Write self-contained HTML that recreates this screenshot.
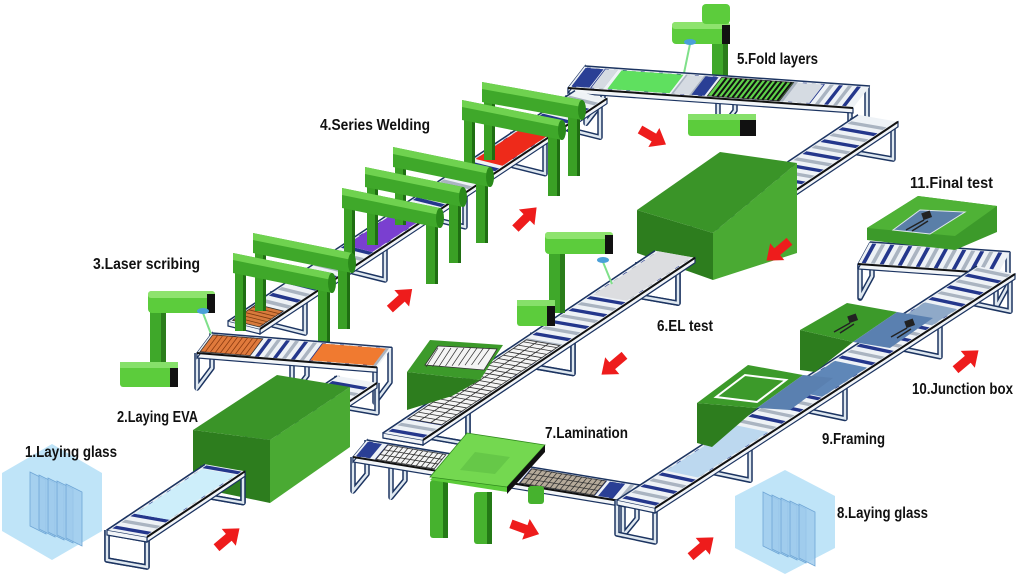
<!DOCTYPE html>
<html><head><meta charset="utf-8"><style>
html,body{margin:0;padding:0;background:#fff;}
svg{display:block;}
text{font-family:"Liberation Sans",sans-serif;font-weight:bold;font-size:16px;fill:#111;}
</style></head><body>
<svg id="s" width="1024" height="576" viewBox="0 0 1024 576" xmlns="http://www.w3.org/2000/svg">
<rect width="1024" height="576" fill="#fff"/>
<g id="g"></g>
<g id="labels">
<text x="25" y="457" textLength="92" lengthAdjust="spacingAndGlyphs">1.Laying glass</text>
<text x="117" y="422" textLength="81" lengthAdjust="spacingAndGlyphs">2.Laying EVA</text>
<text x="93" y="269" textLength="107" lengthAdjust="spacingAndGlyphs">3.Laser scribing</text>
<text x="320" y="130" textLength="110" lengthAdjust="spacingAndGlyphs">4.Series Welding</text>
<text x="737" y="64" textLength="81" lengthAdjust="spacingAndGlyphs">5.Fold layers</text>
<text x="657" y="331" textLength="56" lengthAdjust="spacingAndGlyphs">6.EL test</text>
<text x="545" y="438" textLength="83" lengthAdjust="spacingAndGlyphs">7.Lamination</text>
<text x="837" y="518" textLength="91" lengthAdjust="spacingAndGlyphs">8.Laying glass</text>
<text x="822" y="444" textLength="63" lengthAdjust="spacingAndGlyphs">9.Framing</text>
<text x="912" y="394" textLength="101" lengthAdjust="spacingAndGlyphs">10.Junction box</text>
<text x="910" y="188" textLength="83" lengthAdjust="spacingAndGlyphs">11.Final test</text>
</g>
</svg>
<script>
var NS="http://www.w3.org/2000/svg",G=document.getElementById("g");
function el(t,a,p){var e=document.createElementNS(NS,t);for(var k in a)e.setAttribute(k,a[k]);(p||G).appendChild(e);return e;}
function P(a){return a.map(function(p){return p[0].toFixed(1)+","+p[1].toFixed(1);}).join(" ");}
function poly(pts,fill,extra){var a={points:P(pts),fill:fill};for(var k in extra)a[k]=extra[k];return el("polygon",a);}
var NAVY="#1c3461";
function conv(c,t0,t1){
  function pt(t,w){return [c.o[0]+t+w*c.v[0],c.o[1]+t*c.s+w*c.v[1]];}
  var h=c.h||34;
  (c.legs||[]).forEach(function(t){if(t<t0-1||t>t1+1)return;var a=pt(t,0),b=pt(t,1);
    var d="M"+a[0]+","+a[1]+" L"+a[0]+","+(a[1]+h)+" L"+b[0]+","+(b[1]+h)+" L"+b[0]+","+b[1];
    el("path",{d:d,fill:"none",stroke:NAVY,"stroke-width":5.5,"stroke-linejoin":"round"});
    el("path",{d:d,fill:"none",stroke:"#dfe8f0","stroke-width":2.5});});
  var a0=pt(t0,1),a1=pt(t1,1);
  poly([a0,a1,[a1[0],a1[1]+5],[a0[0],a0[1]+5]],"#f2f5f8",{stroke:NAVY,"stroke-width":1.2});
  var e0=pt(t0,0);poly([e0,a0,[a0[0],a0[1]+5],[e0[0],e0[1]+5]],"#f2f5f8",{stroke:NAVY,"stroke-width":1.2});
  poly([pt(t0,0),pt(t1,0),pt(t1,1),pt(t0,1)],"#eef2f6");
  var i=0;for(var t=t0+3;t<t1-4;t+=9){poly([pt(t,0.06),pt(t+4,0.06),pt(t+4,0.94),pt(t,0.94)],(i++%2)?"#aab4c1":"#24378c");}
  (c.panels||[]).forEach(function(p){var q0=Math.max(p[0],t0),q1=Math.min(p[1],t1);if(q1<=q0)return;
    poly([pt(q0,0.08),pt(q1,0.08),pt(q1,0.92),pt(q0,0.92)],p[2],{stroke:p[3]?"#333":"none","stroke-width":0.8});
    if(p[3]){for(var t=q0+p[3];t<q1;t+=p[3]){var x=pt(t,0.08),y=pt(t,0.92);el("line",{x1:x[0],y1:x[1],x2:y[0],y2:y[1],stroke:p[4]||"#333","stroke-width":p[5]||0.8});}
      if(p[6]){[0.36,0.64].forEach(function(w){var x=pt(q0,w),y=pt(q1,w);el("line",{x1:x[0],y1:x[1],x2:y[0],y2:y[1],stroke:"#333","stroke-width":0.8});});}}});
  var b0=pt(t0,0),b1=pt(t1,0);
  el("line",{x1:b0[0],y1:b0[1],x2:b1[0],y2:b1[1],stroke:NAVY,"stroke-width":1.5});
  el("line",{x1:a0[0],y1:a0[1],x2:a1[0],y2:a1[1],stroke:"#111","stroke-width":2});
}
function robot(ax,ay,aw,colX,colTop,colBot,bx,by,bw,bh,lx1,ly1,lx2,ly2){
  el("rect",{x:colX,y:colTop,width:16,height:colBot-colTop,fill:"#3fa82a"});
  el("rect",{x:colX+11,y:colTop,width:5,height:colBot-colTop,fill:"#2b7d1b"});
  if(bw){el("rect",{x:bx,y:by,width:bw,height:bh,rx:3,fill:"#5ccc3c"});el("rect",{x:bx+bw-8,y:by+2,width:8,height:bh-2,fill:"#111"});el("rect",{x:bx,y:by,width:bw,height:6,fill:"#86e06a"});}
  el("rect",{x:ax,y:ay,width:aw,height:22,rx:4,fill:"#5ccc3c"});
  el("rect",{x:ax,y:ay,width:aw,height:7,rx:3,fill:"#8ee36e"});
  el("rect",{x:ax+aw-8,y:ay+3,width:8,height:19,fill:"#111"});
  el("line",{x1:lx1,y1:ly1,x2:lx2,y2:ly2,stroke:"#7fe08a","stroke-width":2});
  el("ellipse",{cx:lx1,cy:ly1-2,rx:6,ry:3,fill:"#4aa0d8"});
}
function gantry(L,R){
  el("rect",{x:L[0]+2,y:L[1]+12,width:11,height:66,fill:"#3aa025"});el("rect",{x:L[0]+10,y:L[1]+12,width:3,height:66,fill:"#1f6e12"});
  el("rect",{x:R[0]-14,y:R[1]+12,width:12,height:64,fill:"#3aa025"});el("rect",{x:R[0]-5,y:R[1]+12,width:3,height:64,fill:"#1f6e12"});
  poly([L,R,[R[0],R[1]+20],[L[0],L[1]+20]],"#3fa82a");
  poly([L,R,[R[0],R[1]+7],[L[0],L[1]+7]],"#6fd24f");
  el("ellipse",{cx:R[0],cy:R[1]+10,rx:4,ry:10,fill:"#2a8a1a"});
}
function arrow(cx,cy,ang){el("path",{d:"M-15,-4.5 L1,-4.5 L1,-11 L15,0 L1,11 L1,4.5 L-15,4.5 Z",fill:"#ee1c1c",transform:"translate("+cx+","+cy+") rotate("+ang+")"});}
function hex(cx,cy,rw,rh){poly([[cx,cy-rh],[cx+rw,cy-rh/2],[cx+rw,cy+rh/2],[cx,cy+rh],[cx-rw,cy+rh/2],[cx-rw,cy-rh/2]],"#bfe4f8");
  for(var i=0;i<5;i++){var x=cx-22+i*9,y=cy-30+i*3;poly([[x,y],[x+16,y+8],[x+16,y+62],[x,y+54]],"#9fcbec",{stroke:"#6fa6d6","stroke-width":0.8,"fill-opacity":0.8});}}

var C5={o:[585,66],s:0.07,v:[-17,22],legs:[18,150,282],panels:[[2,20,"#2a3f95"],[22,34,"#d5dbe2"],[38,100,"#5fe05f"],[104,120,"#d5dbe2"],[122,135,"#2a3f95"],[138,210,"#5fd24a",5,"#111",2],[214,240,"#d5dbe2"]]};
var C4={o:[228,321],s:-0.664,v:[32,8],legs:[45,125,205,285,340],panels:[[2,26,"#d77a3c",4,"#7a3a10"],[115,160,"#7a3fd0"],[245,300,"#ee2a1a"]]};
var C11={o:[870,242],s:0.07,v:[-12,22],legs:[2,138],panels:[]};
var C6={o:[383,433],s:-0.67,v:[40,7],legs:[45,150,255,360,470],panels:[[22,140,"#f4f4f4",5,"#333",0.8,1],[207,272,"#dcdde0"]]};
var C3={o:[212,333],s:0.08,v:[-15,20],legs:[0,95,178],h:35,panels:[[2,52,"#e07a3c",5,"#8a3a10"],[112,175,"#f07a30"]]};
var C1={o:[107,530],s:-0.67,v:[40,7],legs:[0,96,230],h:30,panels:[[25,92,"#cdeefa"]]};
var C7={o:[367,440],s:0.165,v:[-14,17],legs:[0,38,270],h:34,panels:[[2,16,"#2a3f95"],[22,80,"#f4f4f4",5,"#333",0.8,1],[166,240,"#b5aa9a",5,"#333",0.8,1],[244,258,"#2a3f95"]]};
var C89={o:[617,500],s:-0.65,v:[38,8],legs:[0,95,190,285,355],h:34,panels:[[46,116,"#bcd8ef"],[170,215,"#5f87b8"],[280,305,"#8fa9c8"]]};

robot(672,22,58,712,10,95,0,0,0,0,690,44,683,78);
el("rect",{x:702,y:4,width:28,height:20,rx:4,fill:"#5ccc3c"});
conv(C5,0,285);
el("rect",{x:688,y:114,width:68,height:22,rx:3,fill:"#5ccc3c"});el("rect",{x:740,y:114,width:16,height:22,fill:"#111"});el("rect",{x:688,y:114,width:68,height:6,fill:"#86e06a"});
conv(C4,0,347);
[[[482,82],[582,100]],[[462,100],[562,120]],[[393,147],[490,167]],[[365,167],[463,187]],[[342,188],[440,208]],[[253,233],[352,253]],[[233,253],[332,273]]].forEach(function(g){gantry(g[0],g[1]);});
conv(C11,0,140);
poly([[867,228],[918,196],[997,206],[997,232],[955,250],[867,240]],"#3c9a2a");
poly([[867,228],[918,196],[997,206],[955,236]],"#4fb236");
poly([[893,230],[920,210],[965,212],[930,234]],"#5a7fa8",{stroke:"#dfe6ee","stroke-width":1});
el("rect",{x:922,y:212,width:9,height:7,fill:"#222",transform:"rotate(-20 926 215)"});
el("path",{d:"M924,220 L906,230 M928,221 L912,231",stroke:"#222","stroke-width":1.5});
conv(C6,0,475);
poly([[637,210],[713,233],[713,280],[637,253]],"#2d7d1e");
poly([[713,233],[797,163],[797,253],[713,280]],"#4aaa33");
poly([[637,210],[720,152],[797,163],[713,233]],"#3a9428");
conv(C6,0,272);
robot(545,232,68,549,252,313,517,300,38,26,603,262,612,284);
poly([[407,372],[480,380],[452,396],[407,410]],"#2d7d1e");
poly([[407,372],[430,340],[503,345],[480,380]],"#3c9a2a");
poly([[425,365],[438,346],[497,349],[484,370]],"#f4f4f4",{stroke:"#333","stroke-width":0.8});
for(var k=0;k<9;k++){var x=432+k*6.5;el("line",{x1:x-6,y1:367-k*0.3,x2:x+6,y2:348,stroke:"#333","stroke-width":0.7});}
conv(C3,0,180);
robot(148,291,67,150,305,368,120,362,58,25,203,313,211,334);
conv(C1,0,230);
poly([[193,430],[270,440],[270,503],[193,487]],"#2d7d1e");
poly([[270,440],[350,387],[350,447],[270,503]],"#4aaa33");
poly([[193,430],[277,375],[350,387],[270,440]],"#3a9428");
conv(C1,0,98);
conv(C7,0,273);
el("rect",{x:430,y:480,width:18,height:58,rx:3,fill:"#46b22e"});el("rect",{x:443,y:480,width:5,height:58,fill:"#247a16"});
el("rect",{x:474,y:492,width:18,height:52,rx:3,fill:"#46b22e"});el("rect",{x:487,y:492,width:5,height:52,fill:"#247a16"});
el("rect",{x:528,y:486,width:16,height:18,rx:3,fill:"#46b22e"});
poly([[430,480],[467,440],[545,450],[507,492]],"#5ccc3a");
poly([[430,477],[467,433],[545,445],[507,487]],"#74d850",{stroke:"#2f8a1c","stroke-width":0.8});
poly([[507,487],[545,445],[545,452],[507,494]],"#111");
poly([[460,470],[475,452],[510,457],[495,474]],"#66c848");
conv(C89,0,360);
poly([[697,403],[757,408],[712,447],[697,443]],"#2d7d1e");
poly([[697,403],[748,365],[803,375],[757,408]],"#3c9a2a");
poly([[757,408],[803,375],[833,378],[790,410]],"#5a80b0");
poly([[716,397],[745,375],[786,380],[757,402]],"none",{stroke:"#fff","stroke-width":2});
poly([[800,330],[853,342],[815,372],[800,370]],"#2d7d1e");
poly([[800,330],[847,303],[897,312],[853,342]],"#3c9a2a");
poly([[853,342],[897,312],[933,318],[890,348]],"#5a80b0");
[[848,315],[905,320]].forEach(function(p){el("rect",{x:p[0],y:p[1],width:9,height:7,fill:"#222",transform:"rotate(-20 "+(p[0]+4)+" "+(p[1]+3)+")"});
 el("path",{d:"M"+(p[0]+2)+","+(p[1]+8)+" l-16,9 M"+(p[0]+6)+","+(p[1]+9)+" l-14,9",stroke:"#222","stroke-width":1.4});});
hex(52,502,50,58);hex(785,522,50,52);
arrow(228,538,-40);arrow(401,299,-42);arrow(526,218,-45);arrow(653,137,30);arrow(778,251,140);arrow(613,365,140);arrow(525,529,20);arrow(702,547,-40);arrow(967,360,-40);
</script>
</body></html>
